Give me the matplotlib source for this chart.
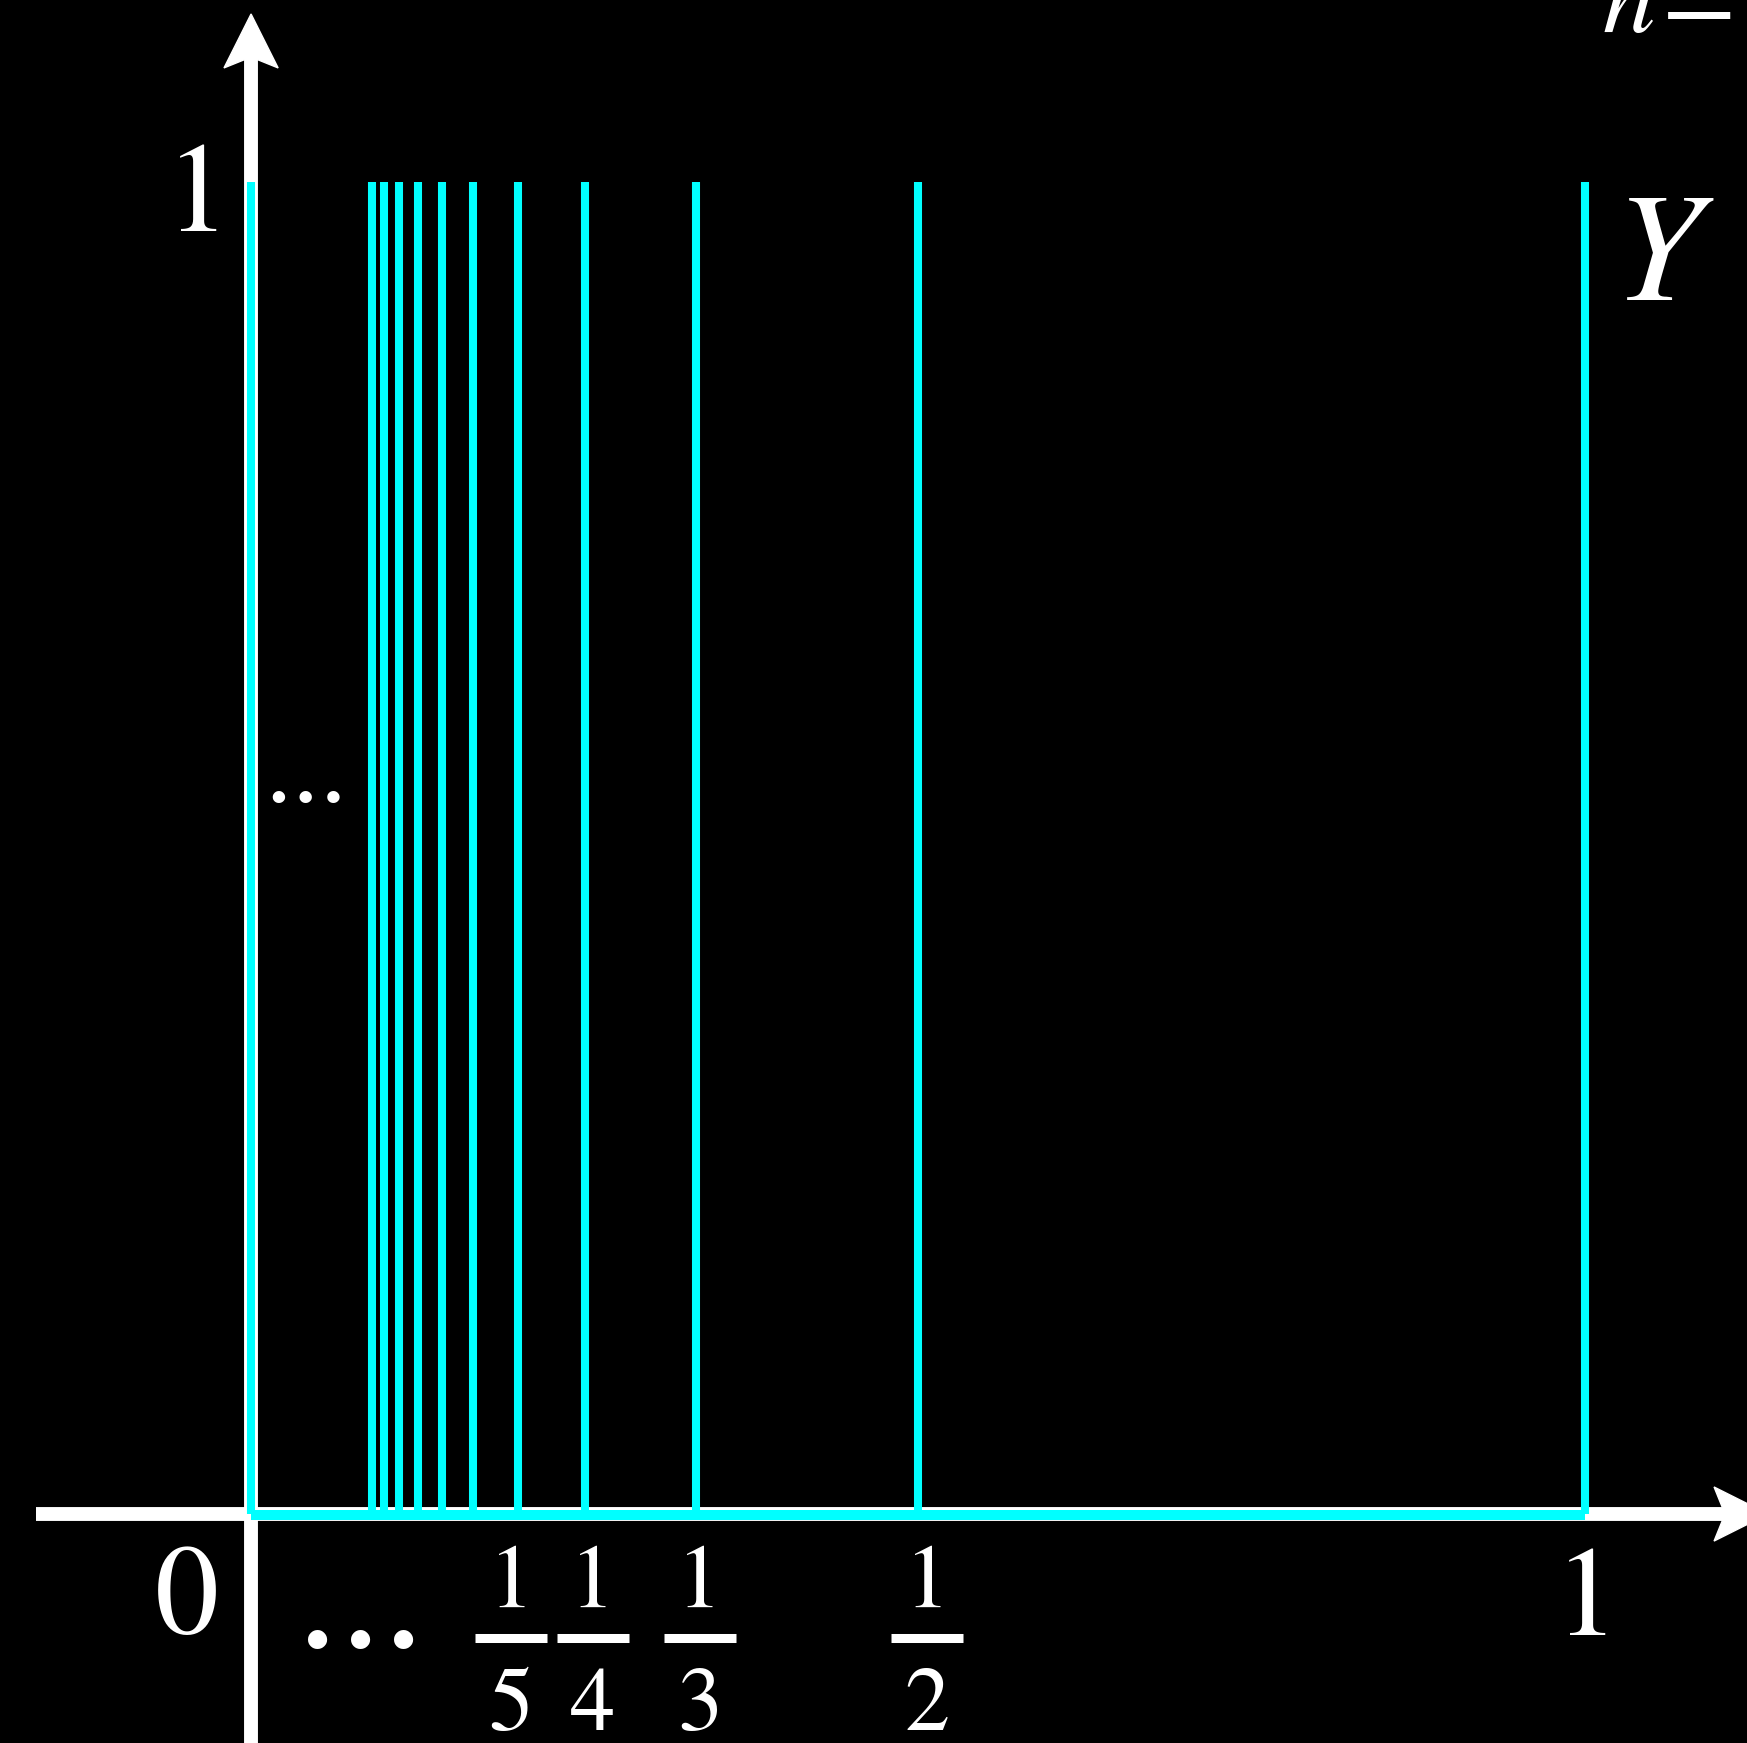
import numpy as np
import matplotlib
matplotlib.use('Agg')
import matplotlib.pyplot as plt
from matplotlib.patches import Polygon

plt.rcParams['mathtext.fontset'] = 'stix'

# comb of spikes at x = 1/n (n = 1..11) plus one at x = 0
denominators = [1, 2, 3, 4, 5, 6, 7, 8, 9, 10, 11]
spike_height = 1.0
frac_labels = [2, 3, 4, 5]          # ticks written as 1/n under the axis
frac_nudge = [0.007, 0.003, 0.006, -0.005]

spike_x = [0.0] + [1.0 / n for n in denominators]

CYAN = '#00FFFF'
SERIF = ['STIXGeneral', 'DejaVu Serif']

fig = plt.figure(figsize=(17.47, 17.43), dpi=100, facecolor='black')
ax = fig.add_axes([0, 0, 1, 1])
ax.set_facecolor('black')
ax.set_xlim(-0.1882, 1.1214)
ax.set_ylim(-0.1719, 1.1366)
ax.axis('off')

# axes with stealth arrowheads
hw, hl, notch = 0.0203, 0.0405, 0.0082
y_tip = 1.1261
x_tip = 1.1372
ax.plot([0, 0], [-0.3, y_tip - hl + notch], color='white', lw=10, solid_capstyle='butt', zorder=2)
ax.add_patch(Polygon([(0, y_tip), (hw, y_tip - hl), (0, y_tip - hl + notch), (-hw, y_tip - hl)],
                     closed=True, color='white', zorder=2))
ax.plot([-0.1612, x_tip - hl + notch], [0, 0], color='white', lw=10, solid_capstyle='butt', zorder=2)
ax.add_patch(Polygon([(x_tip, 0), (x_tip - hl, hw), (x_tip - hl + notch, 0), (x_tip - hl, -hw)],
                     closed=True, color='white', zorder=2, clip_on=False))

# the cyan comb
ax.vlines(spike_x, 0, spike_height, color=CYAN, lw=5.8, zorder=3)
ax.hlines(-0.001, 0, 1, color=CYAN, lw=7.2, zorder=3)

# tick labels
ax.text(-0.0397, 0.963, '1', family=SERIF, fontsize=92, color='white', ha='center', va='baseline')
ax.text(-0.048, -0.0893, '0', family=SERIF, fontsize=92, color='white', ha='center', va='baseline')
ax.text(1.0015, -0.0908, '1', family=SERIF, fontsize=92, color='white', ha='center', va='baseline')

for n, dx in zip(frac_labels, frac_nudge):
    xc = 1.0 / n + dx
    ax.text(xc, -0.0698, '1', family=SERIF, fontsize=65, color='white', ha='center', va='baseline')
    ax.plot([xc - 0.027, xc + 0.027], [-0.0931, -0.0931], color='white', lw=6.5, solid_capstyle='butt')
    ax.text(xc, -0.1622, str(n), family=SERIF, fontsize=65, color='white', ha='center', va='baseline')

# ellipses
ax.text(0.0817, -0.1001, '...', family=SERIF, fontsize=124, color='white', ha='center', va='baseline')
ax.text(0.0412, 0.5345, '...', family=SERIF, fontsize=80, color='white', ha='center', va='baseline')

# labels at the top right
ax.text(1.0547, 0.9114, 'Y', family=SERIF, style='italic', fontsize=112, color='white',
        ha='center', va='baseline')
ax.text(1.013, 1.1126, r'$n\hspace{-0.1}=1$', fontsize=76, color='white',
        ha='left', va='baseline', clip_on=False)

fig.savefig('out.png', dpi=100, facecolor='black')
